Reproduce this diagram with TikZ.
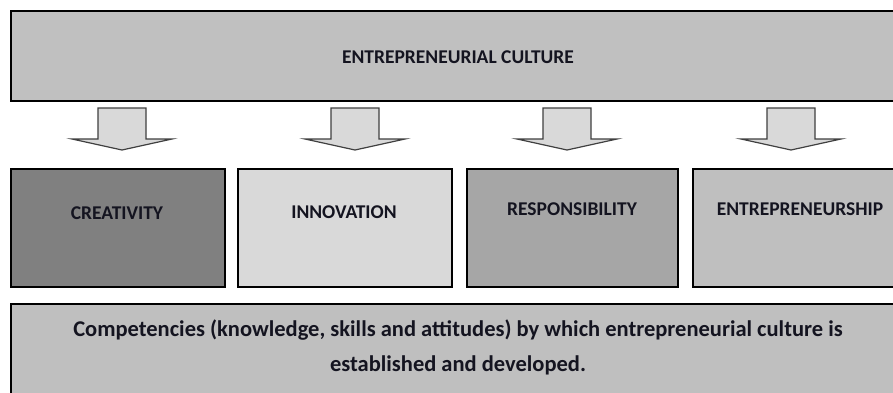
\documentclass[tikz,border=0pt]{standalone}
\usepackage{fontspec}
\setmainfont{Carlito}
\definecolor{culturegray}{HTML}{C0C0C0}
\definecolor{darkfill}{HTML}{808080}
\definecolor{lightfill}{HTML}{D9D9D9}
\definecolor{midfill}{HTML}{A6A6A6}
\definecolor{paleside}{HTML}{BFBFBF}
\definecolor{arrowline}{HTML}{404040}
\definecolor{inkcolor}{HTML}{141420}
\begin{document}
\begin{tikzpicture}[x=1pt,y=-1pt,
  panel/.style={draw=black, line width=2pt, anchor=north west, inner sep=0pt},
  lbl/.style={font=\bfseries\fontsize{19.5}{22}\selectfont, text=inkcolor, inner sep=0pt},
  bigarrow/.style={draw=arrowline, fill=lightfill, line width=1.2pt, line join=miter},
  downarrow/.pic={
    \draw[bigarrow] (-24,0) -- (24,0) -- (24,31) -- (50,31) -- (0,42)
      -- (-50,31) -- (-24,31) -- cycle;
  }]
\useasboundingbox (0,0) rectangle (893,392);
\clip (0,0) rectangle (893,392);
\fill[white] (0,0) rectangle (893,392);

% top banner
\node[panel, fill=culturegray, minimum width=896pt, minimum height=90pt] (culture) at (10,10) {};
\node[lbl] (culturetxt) at (458,57) {ENTREPRENEURIAL CULTURE};

% block arrows
\pic at (122,108) {downarrow};
\pic at (355,108) {downarrow};
\pic at (567,108) {downarrow};
\pic at (791,108) {downarrow};

% four components
\node[panel, fill=darkfill,  minimum width=214pt, minimum height=118pt] (creat) at (10,168) {};
\node[panel, fill=lightfill, minimum width=214pt, minimum height=118pt] (innov) at (237,168) {};
\node[panel, fill=midfill,   minimum width=211pt, minimum height=118pt] (resp)  at (466,168) {};
\node[panel, fill=paleside,  minimum width=216pt, minimum height=118pt] (entre) at (692,168) {};
\node[lbl] (creattxt) at (117,213) {CREATIVITY};
\node[lbl] (innovtxt) at (344,212) {INNOVATION};
\node[lbl] (resptxt)  at (572,209) {RESPONSIBILITY};
\node[lbl] (entretxt) at (800,209) {ENTREPRENEURSHIP};

% competencies banner
\node[panel, fill=paleside, minimum width=896pt, minimum height=120pt] (comp) at (10,303) {};
\node[lbl, font=\bfseries\fontsize{22.5}{35}\selectfont, align=center] (comptxt) at (458,347.5)
  {Competencies (knowledge, skills and attitudes) by which entrepreneurial culture is\\
   established and developed.};
\end{tikzpicture}
\end{document}
